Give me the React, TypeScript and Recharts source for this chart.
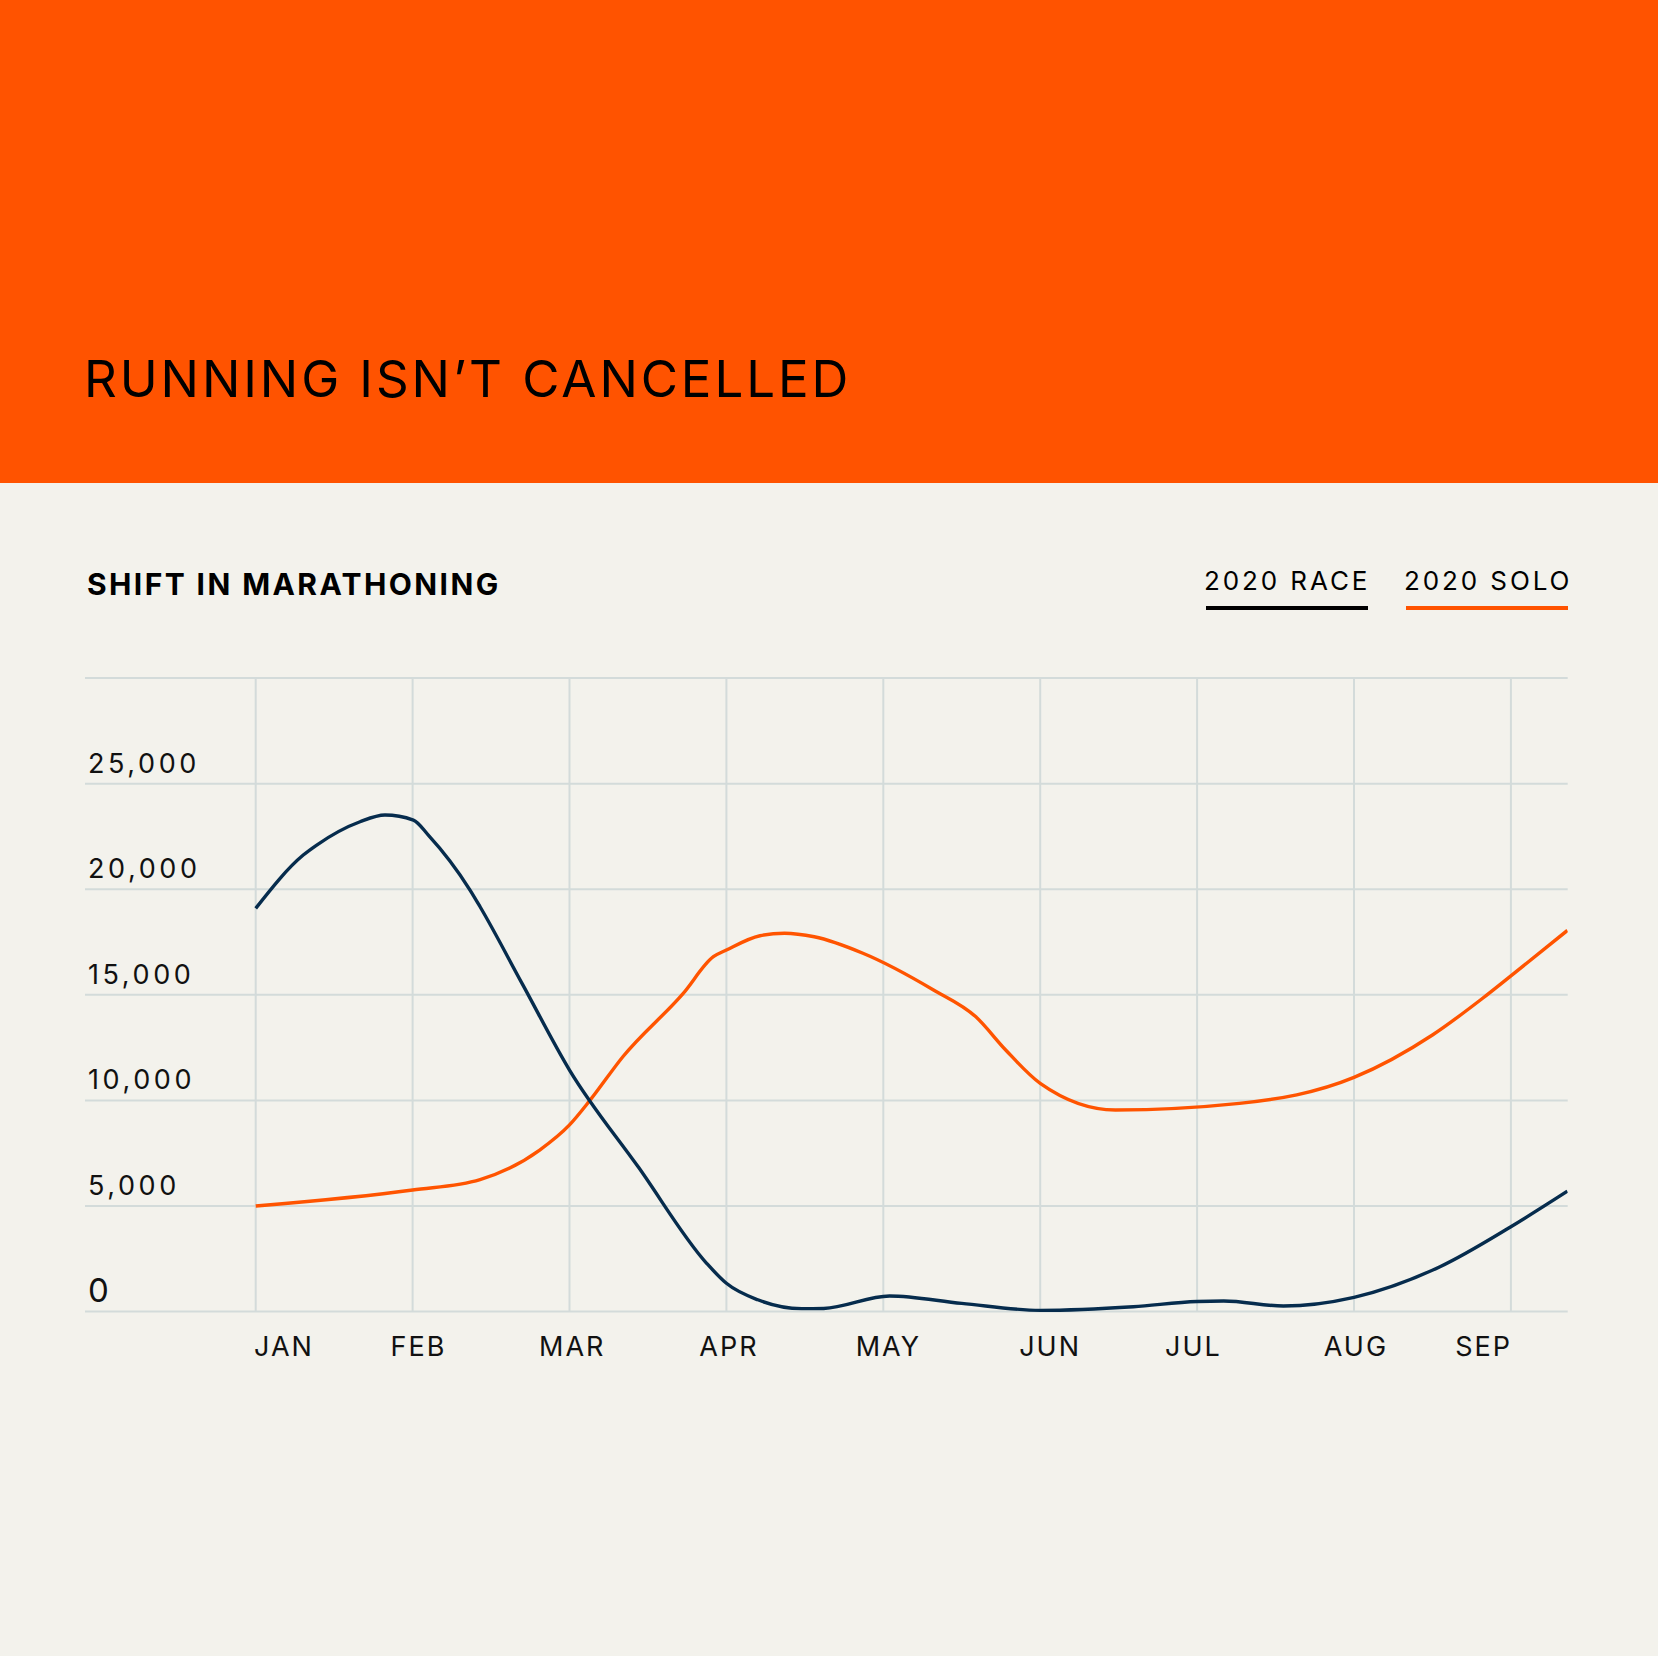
import React from "react";
import { LineChart, Line, XAxis, YAxis, CartesianGrid, ReferenceLine } from "recharts";

// ---- data (x = month position, Jan = 0; y = marathon finishers) ----
const raceMonthPos = [0, 0.303, 0.389, 0.665, 0.824, 1.005, 1.1, 1.366, 1.43, 1.7, 2.0, 2.44, 2.874, 3.0, 3.2, 3.48, 3.62, 4.04, 4.5, 5.0, 5.594, 6.0, 6.17, 6.55, 7.0, 7.548, 8.0, 8.36];
const raceRunners = [19096, 21620, 22094, 23197, 23514, 23277, 22567, 19963, 19172, 15510, 11440, 6832, 2287, 1340, 560, 140, 150, 740, 390, 60, 232, 480, 500, 265, 677, 2126, 4020, 5700];

const soloMonthPos = [0, 1.0, 1.43, 1.81, 2.0, 2.13, 2.34, 2.725, 2.917, 3.0, 3.214, 3.37, 3.56, 3.87, 4.32, 4.59, 4.78, 5.0, 5.48, 6.27, 7.0, 7.5, 7.82, 8.0, 8.36];
const soloRunners = [5000, 5760, 6250, 7650, 8840, 10000, 12070, 15072, 16805, 17122, 17800, 17920, 17750, 16970, 15230, 13960, 12390, 10810, 9550, 9860, 11090, 13100, 14840, 15900, 18050];

const monthLabels = ["JAN", "FEB", "MAR", "APR", "MAY", "JUN", "JUL", "AUG", "SEP"];
const monthLabelPos = [0.174, 1.031, 2.011, 3.01, 4.026, 5.057, 5.97, 7.006, 7.82];
const verticalGridPos = [0, 1, 2, 3, 4, 5, 6, 7, 8];
const yTicks = [0, 5000, 10000, 15000, 20000, 25000, 30000];

const seriesNames = ["2020 RACE", "2020 SOLO"];

const raceData = raceMonthPos.map((m, i) => ({ m, v: raceRunners[i] }));
const soloData = soloMonthPos.map((m, i) => ({ m, v: soloRunners[i] }));

// ---- style ----
const ORANGE = "#FF5300";
const NAVY = "#062C4D";
const BG = "#F3F2EC";
const GRID = "#D3DBDA";
const INK = "#111111";
const FONT = "Inter, 'Noto Sans', sans-serif";

const YTick = (props: any) => {
  const { x, y, payload } = props;
  const val = payload.value as number;
  if (val === 30000) return null;
  const isZero = val === 0;
  return (
    <text
      x={x + 3}
      y={y - (isZero ? 10 : 11)}
      fontFamily={FONT}
      fontSize={isZero ? 33 : 27}
      letterSpacing={isZero ? 0 : 3.6}
      fill={INK}
      textAnchor="start"
    >
      {val.toLocaleString("en-US")}
    </text>
  );
};

const XTick = (props: any) => {
  const { x, y, payload } = props;
  const idx = monthLabelPos.indexOf(payload.value);
  return (
    <text
      x={x + 1}
      y={y + 44.5}
      fontFamily={FONT}
      fontSize={27}
      letterSpacing={2}
      fill={INK}
      textAnchor="middle"
    >
      {monthLabels[idx]}
    </text>
  );
};

export default function App() {
  return (
    <div
      style={{
        position: "absolute",
        left: 0,
        top: 0,
        width: 1658,
        height: 1656,
        background: BG,
        overflow: "hidden",
      }}
    >
      <svg width={1658} height={1656} style={{ position: "absolute", left: 0, top: 0 }}>
        <rect x={0} y={0} width={1658} height={483} fill={ORANGE} />
        <text x={84} y={397} fontFamily={FONT} fontSize={51} letterSpacing={2.9} fill="#000">
          RUNNING ISN’T CANCELLED
        </text>
        <text x={87} y={595} fontFamily={FONT} fontSize={30} fontWeight={700} letterSpacing={2.4} fill="#000">
          SHIFT IN MARATHONING
        </text>
        <text x={1204} y={590} fontFamily={FONT} fontSize={26} letterSpacing={2.9} fill="#000">
          {seriesNames[0]}
        </text>
        <rect x={1206} y={606} width={162} height={4} fill="#000" />
        <text x={1404} y={590} fontFamily={FONT} fontSize={26} letterSpacing={2.9} fill="#000">
          {seriesNames[1]}
        </text>
        <rect x={1406} y={606} width={162} height={4} fill={ORANGE} />
      </svg>
      <div style={{ position: "absolute", left: 0, top: 0 }}>
        <LineChart
          width={1658}
          height={1400}
          margin={{ top: 678.1, left: 85, right: 90.3, bottom: 28.4 }}
        >
          <CartesianGrid vertical={false} stroke={GRID} strokeWidth={2} />
          <XAxis
            type="number"
            dataKey="m"
            domain={[-1.088, 8.362]}
            allowDataOverflow
            ticks={monthLabelPos}
            interval={0}
            axisLine={false}
            tickLine={false}
            tickSize={0}
            tickMargin={0}
            height={60}
            tick={<XTick />}
          />
          <YAxis
            type="number"
            domain={[0, 30000]}
            ticks={yTicks}
            interval={0}
            axisLine={false}
            tickLine={false}
            tickSize={0}
            tickMargin={0}
            mirror
            width={60}
            tick={<YTick />}
          />
          {verticalGridPos.map((p) => (
            <ReferenceLine key={p} x={p} stroke={GRID} strokeWidth={2} />
          ))}
          <Line
            data={soloData}
            dataKey="v"
            name={seriesNames[1]}
            type="monotone"
            stroke="#FF5400"
            strokeWidth={3.4}
            dot={false}
            activeDot={false}
            isAnimationActive={false}
          />
          <Line
            data={raceData}
            dataKey="v"
            name={seriesNames[0]}
            type="monotone"
            stroke={NAVY}
            strokeWidth={3.4}
            dot={false}
            activeDot={false}
            isAnimationActive={false}
          />
        </LineChart>
      </div>
    </div>
  );
}
